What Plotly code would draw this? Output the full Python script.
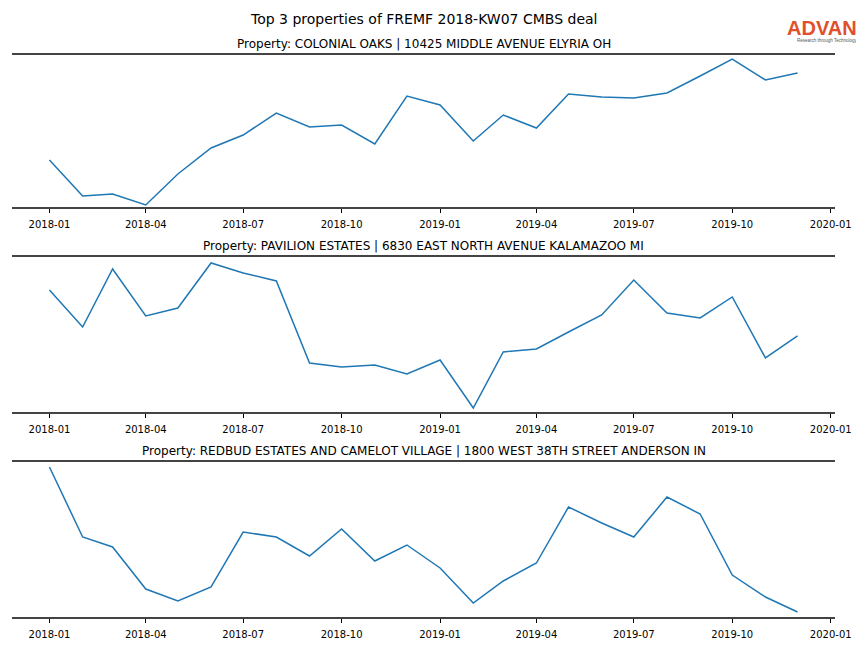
import plotly.graph_objects as go

months = ["2018-01-01", "2018-02-01", "2018-03-01", "2018-04-01", "2018-05-01", "2018-06-01",
          "2018-07-01", "2018-08-01", "2018-09-01", "2018-10-01", "2018-11-01", "2018-12-01",
          "2019-01-01", "2019-02-01", "2019-03-01", "2019-04-01", "2019-05-01", "2019-06-01",
          "2019-07-01", "2019-08-01", "2019-09-01", "2019-10-01", "2019-11-01", "2019-12-01"]

# relative visit index
colonial_oaks = [47, 11, 13, 2, 33, 59, 72, 94, 80, 82, 63, 111,
                 102, 66, 92, 79, 113, 110, 109, 114, 131, 148, 127, 134]
pavilion_estates = [122, 85, 143, 96, 104, 149, 139, 131, 49, 45, 47, 38,
                    52, 4, 60, 63, 80, 97, 132, 99, 94, 115, 54, 76]
redbud_estates = [150, 80, 70, 28, 16, 30, 85, 80, 61, 88, 56, 72,
                  49, 14, 36, 54, 110, 94, 80, 120, 103, 42, 20, 5]

titles = ["Property: COLONIAL OAKS | 10425 MIDDLE AVENUE ELYRIA OH",
          "Property: PAVILION ESTATES | 6830 EAST NORTH AVENUE KALAMAZOO MI",
          "Property: REDBUD ESTATES AND CAMELOT VILLAGE | 1800 WEST 38TH STREET ANDERSON IN"]
series = [colonial_oaks, pavilion_estates, redbud_estates]
y_ranges = [[0, 152], [0, 155], [0, 155]]

tick_vals = ["2018-01-01", "2018-04-01", "2018-07-01", "2018-10-01", "2019-01-01",
             "2019-04-01", "2019-07-01", "2019-10-01", "2020-01-01"]
tick_text = ["2018-01", "2018-04", "2018-07", "2018-10", "2019-01",
             "2019-04", "2019-07", "2019-10", "2020-01"]

domains = [[0.7295, 1.0], [0.3648, 0.6406], [0.0, 0.2758]]

fig = go.Figure()
font = "DejaVu Sans, sans-serif"
for i, (vals, title) in enumerate(zip(series, titles)):
    n = "" if i == 0 else str(i + 1)
    fig.add_trace(go.Scatter(x=months, y=vals, mode="lines",
                             line=dict(color="#1f77b4", width=1.5),
                             xaxis="x" + n, yaxis="y" + n, showlegend=False))
    fig.layout["xaxis" + n] = dict(
        domain=[0, 1], anchor="y" + n, range=["2017-11-27", "2020-01-05"],
        tickvals=tick_vals, ticktext=tick_text, ticks="outside", ticklen=4,
        tickwidth=0.8, tickcolor="#000", showline=True, mirror=True,
        linecolor="#444", linewidth=2, showgrid=False, zeroline=False,
        ticklabelstandoff=3,
        tickfont=dict(family=font, size=10, color="#000"))
    fig.layout["yaxis" + n] = dict(
        domain=domains[i], anchor="x" + n, range=y_ranges[i], showticklabels=False,
        showgrid=False, zeroline=False, showline=False, ticks="")
    fig.add_annotation(text=title, xref="paper", yref="paper", x=0.5, y=domains[i][1],
                       yshift=2, showarrow=False, xanchor="center", yanchor="bottom",
                       font=dict(family=font, size=12, color="#000"))

fig.add_annotation(text="Top 3 properties of FREMF 2018-KW07 CMBS deal", xref="paper",
                   yref="paper", x=0.5, y=1, yshift=26, showarrow=False,
                   xanchor="center", yanchor="bottom",
                   font=dict(family=font, size=14, color="#000"))
fig.add_annotation(text="<b>ADVAN</b>", xref="paper", yref="paper", x=1.029, y=1,
                   yshift=14, showarrow=False, xanchor="right", yanchor="bottom",
                   font=dict(family="Liberation Sans, sans-serif", size=20, color="#e0502a"))
fig.add_annotation(text="Research through Technology", xref="paper", yref="paper",
                   x=1.029, y=1, yshift=10, showarrow=False, xanchor="right",
                   yanchor="bottom",
                   font=dict(family="Liberation Sans, sans-serif", size=4.5, color="#555"))

fig.update_layout(width=856, height=640, margin=dict(l=4, r=29, t=47, b=31),
                  paper_bgcolor="white", plot_bgcolor="white")
fig.write_html("out.html")
